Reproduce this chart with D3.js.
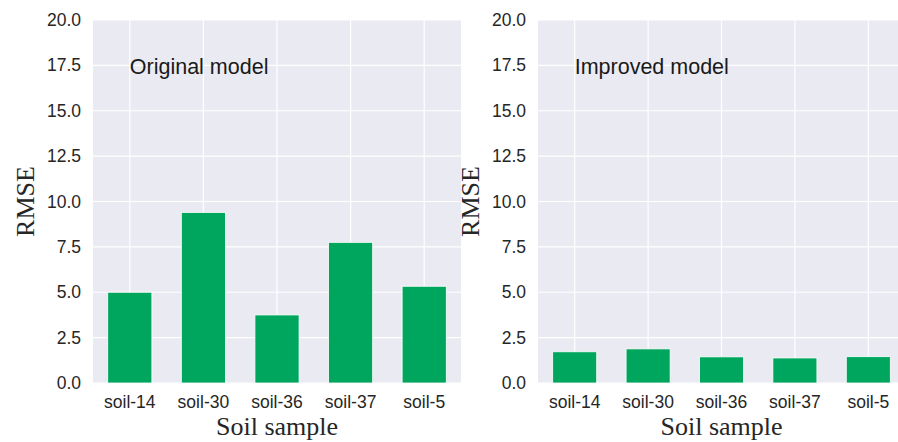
<!DOCTYPE html>
<head>
    <meta charset="utf-8">
    <title>RMSE by soil sample</title>
    <style>
        body { margin: 0; background: #fff; }
        .tick text { font-family: "Liberation Sans", Arial, sans-serif; font-size: 17.5px; fill: #262626; }
        .axis-title { font-family: "Liberation Serif", "Times New Roman", serif; font-size: 26px; fill: #262626; }
        .panel-note { font-family: "Liberation Sans", Arial, sans-serif; font-size: 21.5px; fill: #1a1a1a; }
    </style>
</head>
<body>
    <svg width="898" height="442"></svg>

    <script src="https://d3js.org/d3.v7.min.js"></script>
    <script>
        // data
        var samples = ["soil-14", "soil-30", "soil-36", "soil-37", "soil-5"];
        var originalRmse = [5.0, 9.4, 3.75, 7.75, 5.33];
        var improvedRmse = [1.72, 1.88, 1.44, 1.38, 1.45];
        var yTicks = [0, 2.5, 5, 7.5, 10, 12.5, 15, 17.5, 20];

        var svg = d3.select("svg");
        var plotTop = 20, plotBottom = 383;

        var panels = [
            { left: 93, right: 461, title: "Original model", values: originalRmse, ylabX: 24.5 },
            { left: 538, right: 905, title: "Improved model", values: improvedRmse, ylabX: 470 }
        ];

        var y = d3.scaleLinear().domain([0, 20]).range([plotBottom, plotTop]);

        panels.forEach(function (p) {
            var x = d3.scaleBand().domain(samples).range([p.left, p.right]);
            var g = svg.append("g");

            // background
            g.append("rect")
                .attr("x", p.left).attr("y", plotTop)
                .attr("width", p.right - p.left).attr("height", plotBottom - plotTop)
                .attr("fill", "#eaeaf2");

            // horizontal grid
            g.selectAll(".hgrid").data(yTicks).enter().append("line")
                .attr("x1", p.left).attr("x2", p.right)
                .attr("y1", function (d) { return y(d); }).attr("y2", function (d) { return y(d); })
                .attr("stroke", "#fff").attr("stroke-width", 1.2);

            // vertical grid at category centers
            g.selectAll(".vgrid").data(samples).enter().append("line")
                .attr("x1", function (d) { return x(d) + x.bandwidth() / 2; })
                .attr("x2", function (d) { return x(d) + x.bandwidth() / 2; })
                .attr("y1", plotTop).attr("y2", plotBottom)
                .attr("stroke", "#fff").attr("stroke-width", 1.2);

            // bars
            var bw = x.bandwidth() * 0.6;
            g.selectAll(".bar").data(p.values).enter().append("rect")
                .attr("x", function (d, i) { return x(samples[i]) + (x.bandwidth() - bw) / 2; })
                .attr("y", function (d) { return y(d); })
                .attr("width", bw)
                .attr("height", function (d) { return y(0) - y(d); })
                .attr("fill", "#00a65e")
                .attr("stroke", "#fff").attr("stroke-width", 0.8);

            // y axis
            var ya = g.append("g")
                .attr("transform", "translate(" + p.left + ",0)")
                .call(d3.axisLeft(y).tickValues(yTicks).tickFormat(d3.format(".1f")).tickSize(0).tickPadding(12));
            ya.select(".domain").remove();

            // x axis
            var xa = g.append("g")
                .attr("transform", "translate(0," + plotBottom + ")")
                .call(d3.axisBottom(x).tickSize(0).tickPadding(13));
            xa.select(".domain").remove();

            // titles
            g.append("text").attr("class", "axis-title")
                .attr("x", (p.left + p.right) / 2).attr("y", 435)
                .attr("text-anchor", "middle")
                .text("Soil sample");

            g.append("text").attr("class", "axis-title")
                .attr("transform", "translate(" + (p.ylabX + 9) + "," + ((plotTop + plotBottom) / 2) + ") rotate(-90)")
                .attr("text-anchor", "middle")
                .text("RMSE");

            g.append("text").attr("class", "panel-note")
                .attr("x", x(samples[0]) + x.bandwidth() / 2)
                .attr("y", y(17))
                .text(p.title);
        });
    </script>
</body>
